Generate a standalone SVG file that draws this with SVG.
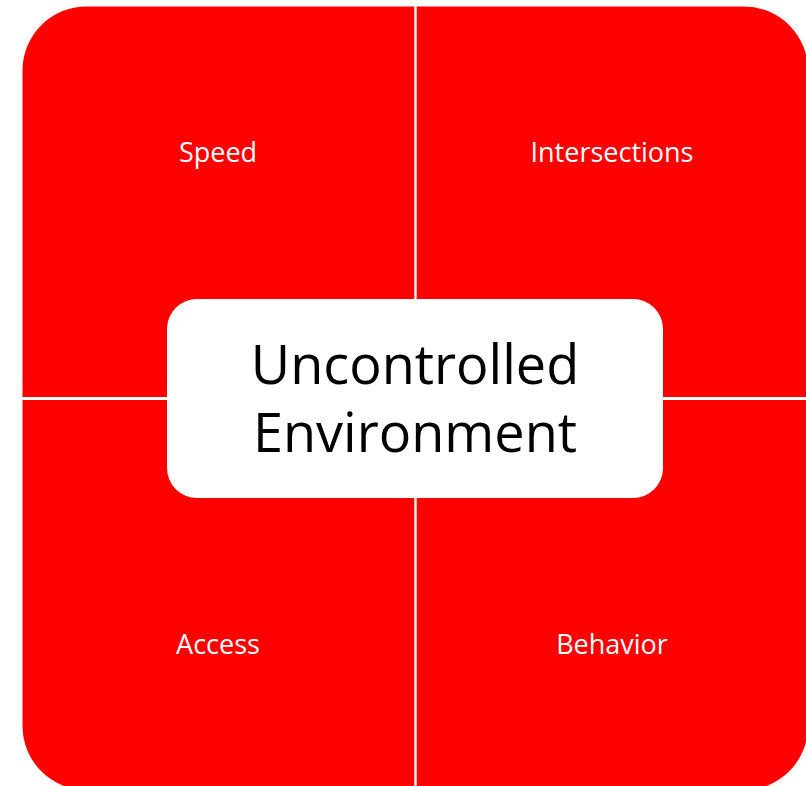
<svg xmlns="http://www.w3.org/2000/svg" width="806" height="786" viewBox="0 0 806 786">
  <style>
    .quad { fill: #FF0000; }
    .qlabel { font-family: "Open Sans", "Liberation Sans", sans-serif; font-size: 27px; fill: #FFFFFF; text-anchor: middle; }
    .center { fill: #FFFFFF; }
    .clabel { font-family: "Open Sans", "Liberation Sans", sans-serif; font-size: 54px; fill: #000000; text-anchor: middle; }
  </style>
  <rect x="0" y="0" width="806" height="786" fill="#FFFFFF"/>
  <g id="speed">
    <path class="quad" d="M22.5,397 V70.5 A64,64 0 0 1 86.5,6.5 H414.3 V397 Z"/>
    <text class="qlabel" x="218" y="162">Speed</text>
  </g>
  <g id="intersections">
    <path class="quad" d="M416.7,6.5 H744 A64,64 0 0 1 808,70.5 V397 H416.7 Z"/>
    <text class="qlabel" x="612" y="162">Intersections</text>
  </g>
  <g id="access">
    <path class="quad" d="M22.5,400 H414.3 V790 H86.5 A64,64 0 0 1 22.5,726 Z"/>
    <text class="qlabel" x="218" y="654">Access</text>
  </g>
  <g id="behavior">
    <path class="quad" d="M416.7,400 H808 V726 A64,64 0 0 1 744,790 H416.7 Z"/>
    <text class="qlabel" x="612" y="654">Behavior</text>
  </g>
  <g id="connectors"></g>
  <g id="uncontrolled-environment">
    <rect class="center" x="167" y="299" width="496" height="199" rx="30" ry="30"/>
    <text class="clabel" x="415" y="384">Uncontrolled</text>
    <text class="clabel" x="415" y="452">Environment</text>
  </g>
</svg>
